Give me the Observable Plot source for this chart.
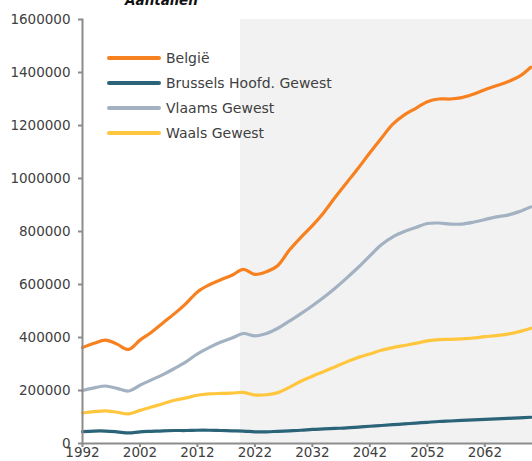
<!DOCTYPE html>
<html>
<head>
<meta charset="utf-8">
<script src="https://cdn.jsdelivr.net/npm/d3@7"></script>
<script src="https://cdn.jsdelivr.net/npm/@observablehq/plot@0.6"></script>
<style>
  html, body { margin: 0; padding: 0; background: #fff; overflow: hidden; }
  #wrap { position: relative; width: 532px; height: 461px; font-family: "DejaVu Sans", sans-serif; color: #404040; }
  #title { position: absolute; top: -6px; left: 0; width: 323px; text-align: center; font-size: 13.5px; line-height: 13.5px; font-weight: bold; font-style: italic; color: #111; z-index: 2; }
  .leg { position: absolute; left: 107px; height: 20px; display: flex; align-items: center; font-size: 14px; color: #404040; z-index: 2; }
  .leg span.sw { display: inline-block; width: 54px; height: 4px; border-radius: 2px; margin-right: 5px; }
  #chart { position: absolute; top: 0; left: 0; }
</style>
</head>
<body>
<div id="wrap">
  <div id="title">Aantallen</div>
  <div id="legend"></div>
  <div id="chart"></div>
</div>
<script>
// ---- data (values in persons) ----
const years = [1992,1994,1996,1998,2000,2002,2004,2006,2008,2010,2012,2014,2016,2018,2020,2022,2024,2026,2028,2030,2032,2034,2036,2038,2040,2042,2044,2046,2048,2050,2052,2054,2056,2058,2060,2062,2064,2066,2068,2070];
const belgie   = [362,378,390,375,355,390,420,455,490,528,572,598,617,635,657,638,648,672,730,778,822,872,930,985,1040,1097,1152,1205,1240,1265,1290,1300,1300,1305,1318,1335,1350,1365,1385,1420].map(v => v * 1000);
const brussel  = [45,47,47,44,40,44,46,48,49,49,50,50,49,48,47,44,44,46,48,50,53,55,57,59,62,65,68,71,74,77,80,83,85,87,89,91,93,95,97,99].map(v => v * 1000);
const vlaams   = [200,210,217,208,198,220,240,260,283,308,338,362,382,398,415,406,415,435,462,490,520,552,587,625,665,708,750,780,800,815,830,832,828,828,835,845,855,862,875,893].map(v => v * 1000);
const waals    = [115,120,123,118,112,125,138,150,163,172,182,187,189,190,193,183,184,192,212,235,254,272,290,308,325,338,352,362,370,378,387,392,393,395,398,403,407,413,422,435].map(v => v * 1000);

const seriesNames  = ["België", "Brussels Hoofd. Gewest", "Vlaams Gewest", "Waals Gewest"];
const seriesValues = [belgie, brussel, vlaams, waals];
const seriesColors = ["#f7801f", "#2b6479", "#a3b2c2", "#ffc63e"];

const xTicks = [1992, 2002, 2012, 2022, 2032, 2042, 2052, 2062];
const yTicks = [0, 200000, 400000, 600000, 800000, 1000000, 1200000, 1400000, 1600000];
const forecastStart = 2019.5;
const xEnd = 2070.3;

// ---- table for Plot ----
const rows = [];
seriesNames.forEach((name, i) => {
  years.forEach((yr, j) => rows.push({series: name, year: yr, value: seriesValues[i][j]}));
});
const shade = [{start: forecastStart, end: xEnd, lo: yTicks[0], hi: yTicks[yTicks.length - 1]}];

const chart = Plot.plot({
  width: 532,
  height: 461,
  marginTop: 19,
  marginBottom: 18,
  marginLeft: 82,
  marginRight: 0,
  style: {fontFamily: "DejaVu Sans, sans-serif", fontSize: "13.5px", background: "transparent", color: "#404040", overflow: "visible"},
  x: {domain: [1992, xEnd], label: null},
  y: {domain: [yTicks[0], yTicks[yTicks.length - 1]], label: null},
  color: {domain: seriesNames, range: seriesColors},
  marks: [
    Plot.rect(shade, {x1: "start", x2: "end", y1: "lo", y2: "hi", fill: "#f2f2f2"}),
    Plot.line(rows, {x: "year", y: "value", z: "series", stroke: "series", strokeWidth: 3.2, curve: "catmull-rom"}),
    Plot.frame({anchor: "left", stroke: "#8c8c8c", strokeWidth: 2}),
    Plot.frame({anchor: "bottom", stroke: "#8c8c8c", strokeWidth: 2}),
    Plot.axisY({ticks: yTicks, tickFormat: d => String(d), tickSize: 4, tickPadding: 8, stroke: "#8c8c8c", strokeWidth: 2, fill: "#404040"}),
    Plot.axisX({ticks: xTicks, tickFormat: d => String(d), tickSize: 4, tickPadding: 0, stroke: "#8c8c8c", strokeWidth: 2, fill: "#404040"})
  ]
});
document.getElementById("chart").appendChild(chart);

// ---- legend (HTML overlay) ----
const legTops = [47, 72, 97, 122];
const legend = document.getElementById("legend");
seriesNames.forEach((name, i) => {
  const d = document.createElement("div");
  d.className = "leg";
  d.style.top = (legTops[i] + 0.5) + "px";
  const sw = document.createElement("span");
  sw.className = "sw";
  sw.style.background = seriesColors[i];
  d.appendChild(sw);
  d.appendChild(document.createTextNode(name));
  legend.appendChild(d);
});
</script>
</body>
</html>
